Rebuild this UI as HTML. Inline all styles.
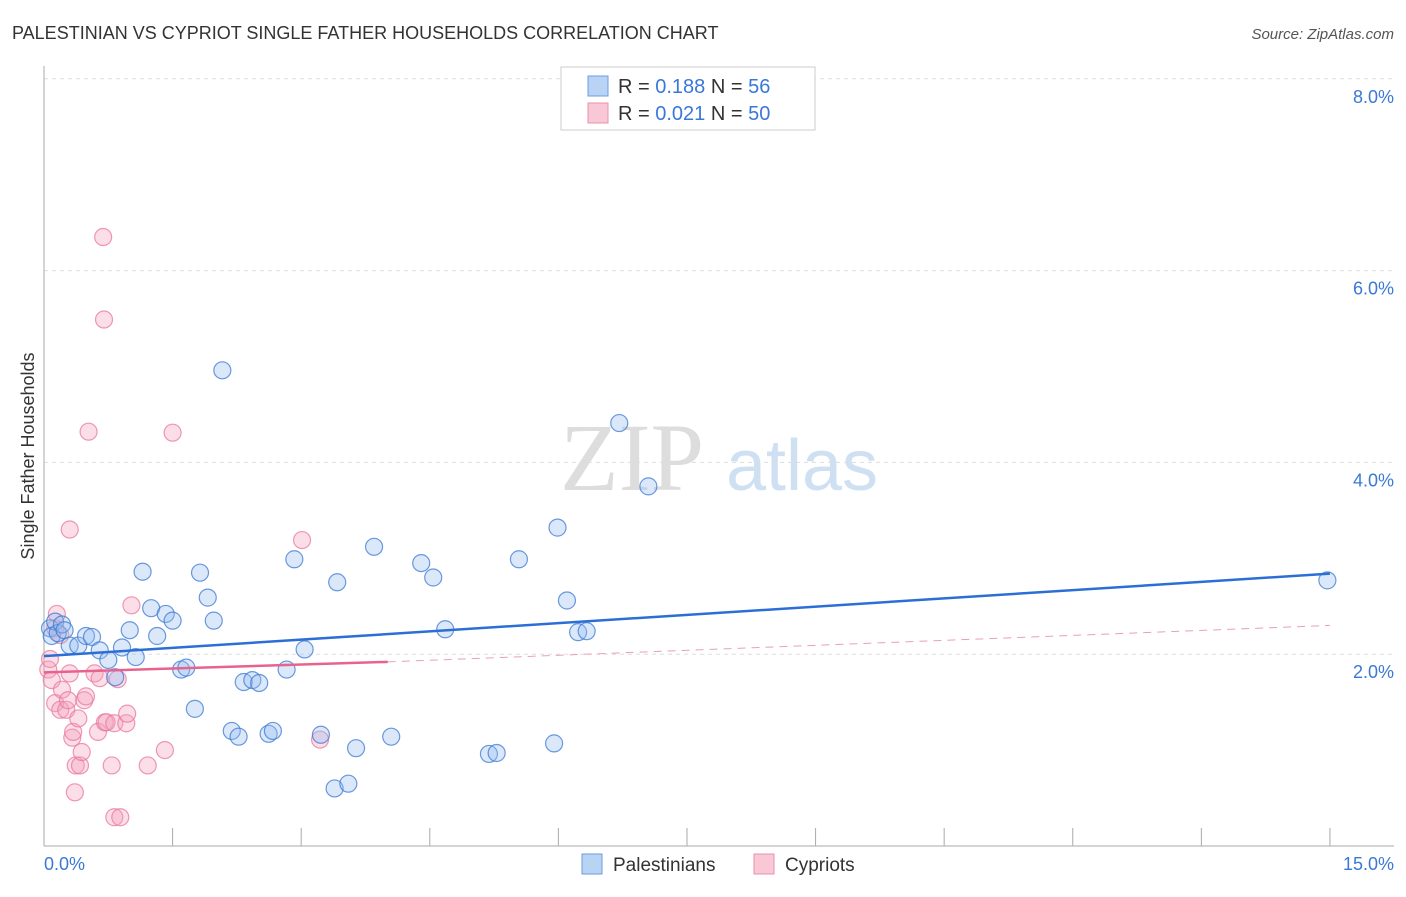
<!DOCTYPE html>
<html><head><meta charset="utf-8"><style>
body{margin:0;background:#fff;font-family:"Liberation Sans",sans-serif}
</style></head><body>
<svg width="1406" height="892" xmlns="http://www.w3.org/2000/svg">
<text x="12" y="39" font-size="18" fill="#333">PALESTINIAN VS CYPRIOT SINGLE FATHER HOUSEHOLDS CORRELATION CHART</text>
<text x="1394" y="39" font-size="15" fill="#555" font-style="italic" text-anchor="end">Source: ZipAtlas.com</text>
<text x="632" y="490" font-size="96" fill="#ddd" font-family="Liberation Serif,serif" text-anchor="middle">ZIP</text>
<text x="802" y="490" font-size="72" fill="#cfe0f3" text-anchor="middle">atlas</text>
<g id="grid"></g><g id="axes"></g><g id="pts"></g><g id="lines"></g>
<text x="34" y="456" font-size="18" fill="#333" text-anchor="middle" transform="rotate(-90 34 456)">Single Father Households</text>
<text x="44" y="870" font-size="18" fill="#3a78d8">0.0%</text>
<text x="1394" y="870" font-size="18" fill="#3a78d8" text-anchor="end">15.0%</text>
<g>
<rect x="561" y="67" width="254" height="63" fill="#fff" stroke="#ccc"/>
<rect x="588" y="76" width="20" height="20" fill="#b9d3f5" stroke="#6a9be0"/>
<text x="618" y="93" font-size="20" fill="#333">R = <tspan fill="#3a78d8">0.188</tspan>   N = <tspan fill="#3a78d8">56</tspan></text>
<rect x="588" y="103" width="20" height="20" fill="#f8c8d6" stroke="#e890ab"/>
<text x="618" y="120" font-size="20" fill="#333">R = <tspan fill="#3a78d8">0.021</tspan>   N = <tspan fill="#3a78d8">50</tspan></text>
</g>
<g>
<rect x="582" y="854" width="20" height="20" fill="#b9d3f5" stroke="#6a9be0"/>
<text x="613" y="871" font-size="19" fill="#333">Palestinians</text>
<rect x="754" y="854" width="20" height="20" fill="#f8c8d6" stroke="#e890ab"/>
<text x="785" y="871" font-size="19" fill="#333">Cypriots</text>
</g>
</svg>
<script>
const yTicks=[2,4,6,8];
const xTicks=[0,1.5,3,4.5,6,7.5,9,10.5,12,13.5,15];
const blueX=[0.07,0.09,0.13,0.16,0.21,0.24,0.30,0.40,0.49,0.56,0.65,0.75,0.83,0.91,1.00,1.07,1.15,1.25,1.32,1.42,1.50,1.60,1.66,1.76,1.82,1.91,1.98,2.08,2.19,2.27,2.33,2.43,2.51,2.62,2.67,2.83,2.92,3.04,3.23,3.39,3.42,3.55,3.64,3.85,4.05,4.40,4.54,4.68,5.19,5.28,5.54,5.95,5.99,6.10,6.23,6.33,6.71,7.05,14.97];
const blueY=[2.27,2.19,2.34,2.22,2.31,2.25,2.09,2.09,2.19,2.18,2.04,1.94,1.76,2.07,2.25,1.97,2.86,2.48,2.19,2.42,2.35,1.84,1.86,1.43,2.85,2.59,2.35,4.96,1.20,1.14,1.71,1.73,1.70,1.17,1.20,1.84,2.99,2.05,1.16,0.60,2.75,0.65,1.02,3.12,1.14,2.95,2.80,2.26,0.96,0.97,2.99,1.07,3.32,2.56,2.23,2.24,4.41,3.75,2.77];
const pinkX=[0.05,0.07,0.09,0.13,0.15,0.19,0.13,0.19,0.21,0.26,0.28,0.30,0.30,0.33,0.34,0.36,0.37,0.40,0.42,0.44,0.47,0.49,0.52,0.59,0.63,0.65,0.69,0.70,0.71,0.73,0.79,0.82,0.86,0.89,0.82,0.96,0.97,1.02,1.21,1.41,1.50,3.01,3.22];
const pinkY=[1.84,1.95,1.73,2.27,2.42,2.20,1.49,1.42,1.63,1.42,1.52,3.30,1.80,1.13,1.19,0.56,0.84,1.33,0.84,0.98,1.52,1.56,4.32,1.80,1.19,1.75,6.35,5.49,1.29,1.29,0.84,0.30,1.74,0.30,1.28,1.28,1.38,2.51,0.84,1.00,4.31,3.19,1.11];
const blueTrend=[[0,1.98],[15,2.84]];
const pinkTrend=[[0,1.81],[4.01,1.92]];
const pinkDash=[[4.01,1.92],[15,2.30]];
const X=v=>44+v*85.73, Y=v=>846-v*95.9;
const NS="http://www.w3.org/2000/svg";
function mk(t,a,p){const e=document.createElementNS(NS,t);for(const k in a)e.setAttribute(k,a[k]);p.appendChild(e);return e;}
const grid=document.getElementById('grid'),axes=document.getElementById('axes'),pts=document.getElementById('pts'),lines=document.getElementById('lines');
yTicks.forEach(t=>{
const l=mk('line',{x1:44,x2:1394,y1:Y(t),y2:Y(t),stroke:'#ddd','stroke-dasharray':'4,4'},grid);


const tx=mk('text',{x:1394,y:Y(t)+24,'font-size':18,fill:'#3a78d8','text-anchor':'end'},grid);
tx.textContent=t.toFixed(1)+'%';


});
const ax=mk('line',{x1:44,x2:44,y1:66,y2:846,stroke:'#aaa'},axes);


const bx=mk('line',{x1:44,x2:1394,y1:846,y2:846,stroke:'#aaa'},axes);


xTicks.forEach(t=>{
const l=mk('line',{x1:X(t),x2:X(t),y1:828,y2:846,stroke:'#aaa'},axes);


});
pinkX.forEach((x,i)=>{
const c=mk('circle',{cx:X(x),cy:Y(pinkY[i]),r:8.5,fill:'rgba(244,160,188,0.35)',stroke:'rgba(232,120,155,0.75)','stroke-width':1.2},pts);


});
blueX.forEach((x,i)=>{
const c=mk('circle',{cx:X(x),cy:Y(blueY[i]),r:8.5,fill:'rgba(150,190,240,0.35)',stroke:'rgba(60,120,210,0.75)','stroke-width':1.2},pts);


});
const bl=mk('line',{x1:X(blueTrend[0][0]),y1:Y(blueTrend[0][1]),x2:X(blueTrend[1][0]),y2:Y(blueTrend[1][1]),stroke:'#2b6fd6','stroke-width':2.5},lines);


const pl=mk('line',{x1:X(pinkTrend[0][0]),y1:Y(pinkTrend[0][1]),x2:X(pinkTrend[1][0]),y2:Y(pinkTrend[1][1]),stroke:'#e8628e','stroke-width':2.5},lines);


const pd=mk('line',{x1:X(pinkDash[0][0]),y1:Y(pinkDash[0][1]),x2:X(pinkDash[1][0]),y2:Y(pinkDash[1][1]),stroke:'#e8a0b8','stroke-width':1,'stroke-dasharray':'8,6'},lines);


</script>
</body></html>
